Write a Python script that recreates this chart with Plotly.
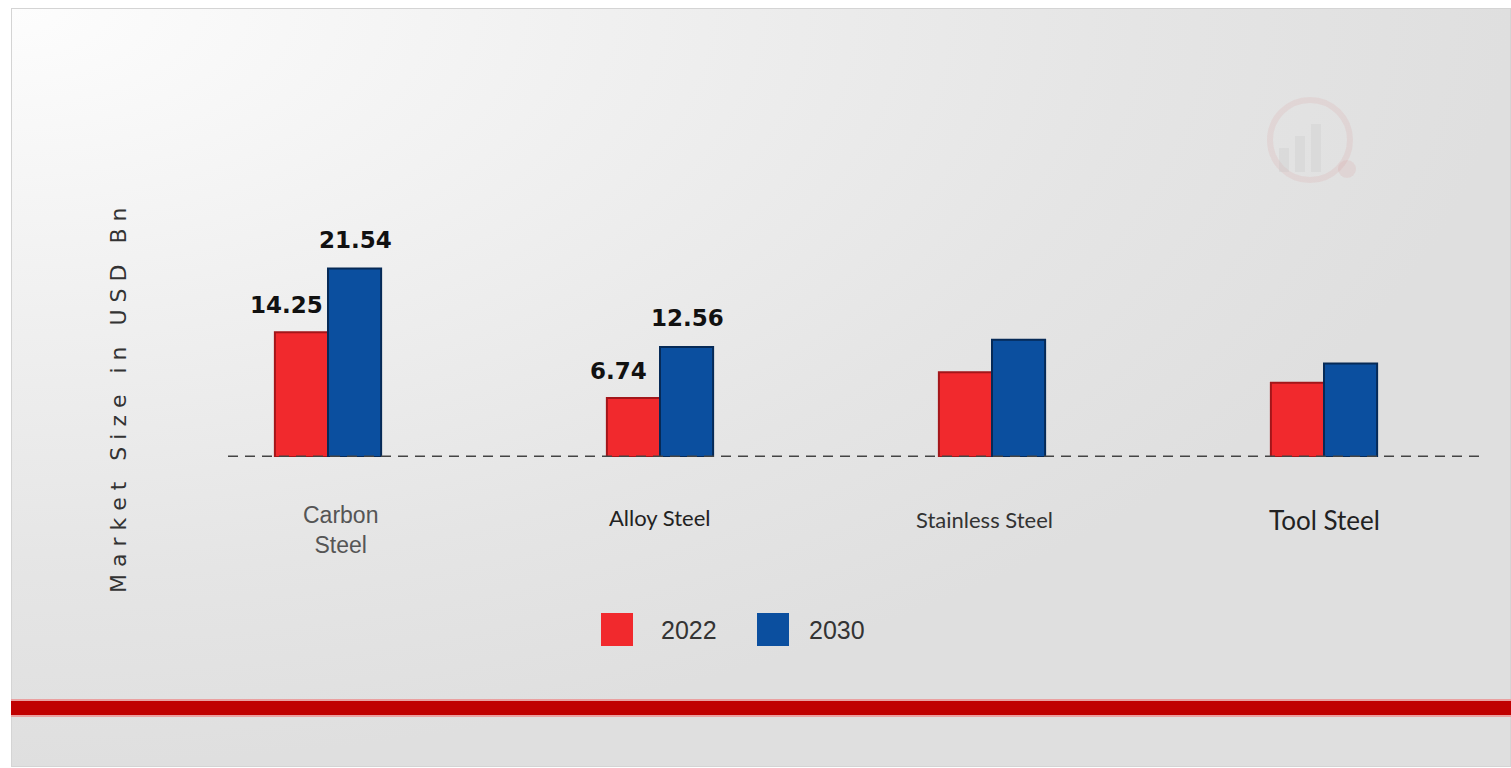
import urllib.parse
import plotly.graph_objects as go

# ---- data -------------------------------------------------------------
categories = ["Carbon Steel", "Alloy Steel", "Stainless Steel", "Tool Steel"]
years = ["2022", "2030"]
values_2022 = [14.25, 6.74, 9.7, 8.5]
values_2030 = [21.54, 12.56, 13.4, 10.7]
value_labels_2022 = ["14.25", "6.74", "", ""]
value_labels_2030 = ["21.54", "12.56", "", ""]
axis_title = "Market Size in USD Bn"

# ---- geometry (pixels) ------------------------------------------------
W, H = 1511, 768
ML, MR, MT, MB = 162, 21, 100, 311
PW, PH = W - ML - MR, H - MT - MB
PX_PER_UNIT = 8.75
Y_MAX = PH / PX_PER_UNIT


def px(x):
    return (x - ML) / PW


def py(y):
    return (H - MB - y) / PH


RED, RED_EDGE = "#f1292d", "#a3161a"
BLUE, BLUE_EDGE = "#0b4f9f", "#062a57"

fig = go.Figure()
fig.add_trace(go.Bar(
    x=categories, y=values_2022, name=years[0],
    marker=dict(color=RED, line=dict(color=RED_EDGE, width=2)),
    showlegend=False,
))
fig.add_trace(go.Bar(
    x=categories, y=values_2030, name=years[1],
    marker=dict(color=BLUE, line=dict(color=BLUE_EDGE, width=2)),
    showlegend=False,
))

annotations = []
label_font = dict(family="DejaVu Sans", size=23, color="#111")
# value labels above the bars
for cat, v, lab in zip(categories, values_2022, value_labels_2022):
    if lab:
        annotations.append(dict(x=cat, y=v, xref="x", yref="y", text=f"<b>{lab}</b>",
                                showarrow=False, xshift=-42, yshift=12, yanchor="bottom",
                                xanchor="center", font=label_font))
for cat, v, lab in zip(categories, values_2030, value_labels_2030):
    if lab:
        annotations.append(dict(x=cat, y=v, xref="x", yref="y", text=f"<b>{lab}</b>",
                                showarrow=False, xshift=27, yshift=14, yanchor="bottom",
                                xanchor="center", font=label_font))

# category labels under the baseline
cat_styles = [
    dict(text="Carbon<br>Steel", family="Liberation Sans", size=23, color="#555", xshift=12, y=530),
    dict(text="Alloy Steel", family="Lato", size=22, color="#222", xshift=0, y=517),
    dict(text="Stainless Steel", family="Lato", size=22, color="#333", xshift=-8, y=519),
    dict(text="Tool Steel", family="Lato", size=26, color="#222", xshift=0, y=520),
]
for cat, st in zip(categories, cat_styles):
    label = st["text"] if st["text"].replace("<br>", " ") == cat else cat
    annotations.append(dict(x=cat, y=py(st["y"]), xref="x", yref="paper", text=label,
                            showarrow=False, xshift=st["xshift"], yanchor="middle",
                            xanchor="center",
                            font=dict(family=st["family"], size=st["size"], color=st["color"])))

# rotated, letter-spaced axis title
spaced = "   ".join(" ".join(word) for word in axis_title.split(" "))
annotations.append(dict(x=px(118), y=py(400), xref="paper", yref="paper", text=spaced,
                        textangle=-90, showarrow=False, xanchor="center", yanchor="middle",
                        font=dict(family="DejaVu Sans", size=22, color="#333")))

# legend
shapes = []
legend_items = [(years[0], RED, 601, 659), (years[1], BLUE, 757, 807)]
for name, col, sx, tx in legend_items:
    shapes.append(dict(type="rect", xref="paper", yref="paper",
                       x0=px(sx), x1=px(sx + 32), y0=py(646), y1=py(613),
                       fillcolor=col, line=dict(width=0)))
    annotations.append(dict(x=px(tx), y=py(630), xref="paper", yref="paper", text=name,
                            showarrow=False, xanchor="left", yanchor="middle",
                            font=dict(family="Liberation Sans", size=25, color="#333")))

# dashed baseline
shapes.append(dict(type="line", xref="paper", yref="y", x0=px(228), x1=px(1482), y0=0, y1=0,
                   line=dict(color="#444", width=3, dash="10px,7px"), layer="above"))

# red band near the bottom
shapes.append(dict(type="rect", xref="paper", yref="paper", x0=px(11), x1=px(1511),
                   y0=py(717), y1=py(699), fillcolor="#eaa0a0", line=dict(width=0), layer="below"))
shapes.append(dict(type="rect", xref="paper", yref="paper", x0=px(11), x1=px(1511),
                   y0=py(715), y1=py(701), fillcolor="#c00000", line=dict(width=0), layer="below"))

# faint watermark logo
shapes.append(dict(type="circle", xref="paper", yref="paper",
                   x0=px(1270), x1=px(1350), y0=py(180), y1=py(100),
                   line=dict(color="rgba(215,120,120,0.12)", width=6), layer="below"))
for bx, top in [(1284, 148), (1300, 136), (1316, 124)]:
    shapes.append(dict(type="rect", xref="paper", yref="paper",
                       x0=px(bx - 5), x1=px(bx + 5), y0=py(172), y1=py(top),
                       fillcolor="rgba(190,190,190,0.2)", line=dict(width=0), layer="below"))
shapes.append(dict(type="circle", xref="paper", yref="paper",
                   x0=px(1338), x1=px(1356), y0=py(178), y1=py(160),
                   fillcolor="rgba(215,120,120,0.12)", line=dict(width=0), layer="below"))

# panel background with soft radial shading
svg = (
    '<svg xmlns="http://www.w3.org/2000/svg" width="1500" height="759" viewBox="0 0 1500 759" '
    'preserveAspectRatio="none">'
    '<defs><radialGradient id="g" cx="0" cy="0" r="1" gradientUnits="objectBoundingBox">'
    '<stop offset="0" stop-color="#fdfdfd"/><stop offset="0.4" stop-color="#f0f0f0"/>'
    '<stop offset="0.75" stop-color="#e5e5e5"/><stop offset="1" stop-color="#dfdfdf"/>'
    '</radialGradient></defs>'
    '<rect x="0.5" y="0.5" width="1499" height="758" fill="url(#g)" stroke="#d4d4d4" stroke-width="1"/>'
    '</svg>'
)
src = "data:image/svg+xml;charset=utf-8," + urllib.parse.quote(svg)

fig.update_layout(
    width=W, height=H,
    margin=dict(l=ML, r=MR, t=MT, b=MB),
    paper_bgcolor="white", plot_bgcolor="rgba(0,0,0,0)",
    barmode="group", bargap=0.68, bargroupgap=0,
    xaxis=dict(showticklabels=False, showgrid=False, zeroline=False, showline=False, ticks=""),
    yaxis=dict(range=[0, Y_MAX], visible=False, showgrid=False, zeroline=False),
    annotations=annotations, shapes=shapes,
    images=[dict(source=src, xref="paper", yref="paper", x=px(11), y=py(8),
                 sizex=px(1511) - px(11), sizey=py(8) - py(767),
                 xanchor="left", yanchor="top", sizing="stretch", layer="below")],
    showlegend=False,
)

fig.write_html("out.html")
